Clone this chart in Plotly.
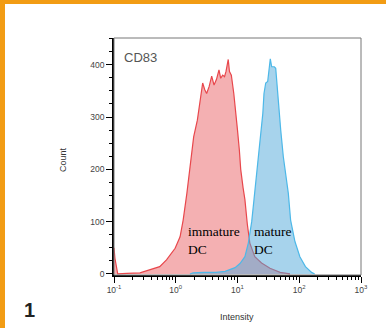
import plotly.graph_objects as go

# ---- data ----
# log10(intensity) positions and counts
immature_log = [-1.0, -0.985, -0.94, -0.85, -0.79, -0.58, -0.42, -0.26, -0.15, -0.01,
                0.07, 0.12, 0.18, 0.23, 0.29, 0.35, 0.40, 0.436, 0.47, 0.50, 0.54,
                0.582, 0.62, 0.66, 0.70, 0.728, 0.76, 0.79, 0.814, 0.85, 0.87, 0.90,
                0.94, 0.976, 1.0, 1.03, 1.052, 1.09, 1.12, 1.159, 1.2, 1.28, 1.39,
                1.526, 1.69, 1.85]
immature_cnt = [50, 30, 0, 0, 1, 2, 8, 14, 27, 49,
                71, 103, 154, 199, 262, 294, 340, 365, 352, 345, 358,
                378, 361, 372, 390, 374, 380, 377, 387, 410, 387, 380,
                345, 294, 275, 237, 200, 165, 142, 95, 59, 33, 21,
                11, 3, 0]

mature_log = [0.23, 0.28, 0.45, 0.65, 0.80, 0.879, 0.96, 1.04, 1.12, 1.175, 1.23,
              1.267, 1.30, 1.32, 1.364, 1.392, 1.41, 1.429, 1.457, 1.489, 1.515,
              1.531, 1.554, 1.596, 1.619, 1.645, 1.677, 1.70, 1.742, 1.769, 1.823,
              1.86, 1.93, 2.01, 2.10, 2.20, 2.25]
mature_cnt = [0, 2, 3, 3, 5, 8, 12, 20, 33, 59, 100,
              142, 180, 200, 263, 294, 307, 345, 365, 368, 404,
              411, 396, 396, 393, 352, 294, 275, 224, 200, 154,
              103, 62, 33, 14, 3, 0]

x_tick_vals = [0.1, 1, 10, 100, 1000]
x_tick_text = ["10<sup>-1</sup>", "10<sup>0</sup>", "10<sup>1</sup>",
               "10<sup>2</sup>", "10<sup>3</sup>"]
y_tick_vals = [0, 100, 200, 300, 400]

immature_x = [10 ** v for v in immature_log]
mature_x = [10 ** v for v in mature_log]

fig = go.Figure()
fig.add_trace(go.Scatter(
    x=immature_x, y=immature_cnt, mode="lines", fill="tozeroy",
    line=dict(color="#E8474C", width=1.2),
    fillcolor="rgba(232,90,95,0.48)", hoverinfo="skip", showlegend=False))
fig.add_trace(go.Scatter(
    x=mature_x, y=mature_cnt, mode="lines", fill="tozeroy",
    line=dict(color="#4DB8E8", width=1.2),
    fillcolor="rgba(80,168,218,0.5)", hoverinfo="skip", showlegend=False))

W, H = 386, 328
L, T, R, B = 114, 38, 25, 53
pw, ph = W - L - R, H - T - B


def px(xp):
    return (xp - L) / pw


def py(yp):
    return (H - B - yp) / ph


fig.update_layout(
    width=W, height=H,
    margin=dict(l=L, r=R, t=T, b=B, pad=0),
    paper_bgcolor="white", plot_bgcolor="white",
    font=dict(family="Arial, Liberation Sans, sans-serif", color="#333", size=8),
    xaxis=dict(
        type="log", range=[-1, 3],
        tickmode="array", tickvals=x_tick_vals, ticktext=x_tick_text,
        ticks="outside", ticklen=6, tickwidth=1, tickcolor="black",
        minor=dict(ticks="outside", ticklen=3, tickwidth=1, tickcolor="black",
                   dtick="D1", showgrid=False),
        showgrid=False, zeroline=False,
        showline=True, linecolor="black", linewidth=1.5,
        tickfont=dict(size=8.5, color="#444"),
    ),
    yaxis=dict(
        range=[-2, 451],
        tickmode="array", tickvals=y_tick_vals,
        ticks="outside", ticklen=6, tickwidth=1, tickcolor="black",
        minor=dict(ticks="outside", ticklen=3, tickwidth=1, tickcolor="black",
                   dtick=25, tick0=0, showgrid=False),
        showgrid=False, zeroline=False,
        showline=True, linecolor="black", linewidth=1.5,
        tickfont=dict(size=8.5, color="#444"),
    ),
    shapes=[
        # plot frame (top/right grey)
        dict(type="rect", xref="paper", yref="paper", x0=0, x1=1, y0=0, y1=1,
             line=dict(color="#777", width=1), layer="above"),
        # orange border bars
        dict(type="rect", xref="paper", yref="paper",
             x0=px(0), x1=px(5), y0=py(H), y1=py(0),
             line=dict(width=0), fillcolor="#F29C14", layer="above"),
        dict(type="rect", xref="paper", yref="paper",
             x0=px(0), x1=px(W), y0=py(4), y1=py(-2),
             line=dict(width=0), fillcolor="#F29C14", layer="above"),
    ],
    annotations=[
        dict(text="CD83", xref="paper", yref="paper", x=px(122), y=py(58),
             xanchor="left", yanchor="middle", showarrow=False,
             font=dict(size=13, color="#555", family="Arial, Liberation Sans")),
        dict(text="immature<br>DC", xref="paper", yref="paper", x=px(186), y=py(240),
             xanchor="left", yanchor="middle", align="left", showarrow=False,
             font=dict(size=13.5, color="black", family="Liberation Serif, Times New Roman, serif")),
        dict(text="mature<br>DC", xref="paper", yref="paper", x=px(252), y=py(240),
             xanchor="left", yanchor="middle", align="left", showarrow=False,
             font=dict(size=13.5, color="black", family="Liberation Serif, Times New Roman, serif")),
        dict(text="Count", xref="paper", yref="paper", x=px(63), y=py(160),
             xanchor="center", yanchor="middle", textangle=-90, showarrow=False,
             font=dict(size=9, color="#333")),
        dict(text="Intensity", xref="paper", yref="paper", x=px(237), y=py(317),
             xanchor="center", yanchor="middle", showarrow=False,
             font=dict(size=9, color="#333")),
        dict(text="<b>1</b>", xref="paper", yref="paper", x=px(29), y=py(310),
             xanchor="center", yanchor="middle", showarrow=False,
             font=dict(size=20, color="#222", family="Arial, Liberation Sans")),
    ],
)

fig.write_html(
    "out.html",
    config={"displayModeBar": False},
    post_script="document.body.style.margin='0';document.body.style.padding='0';"
                "document.documentElement.style.overflow='hidden';",
)
